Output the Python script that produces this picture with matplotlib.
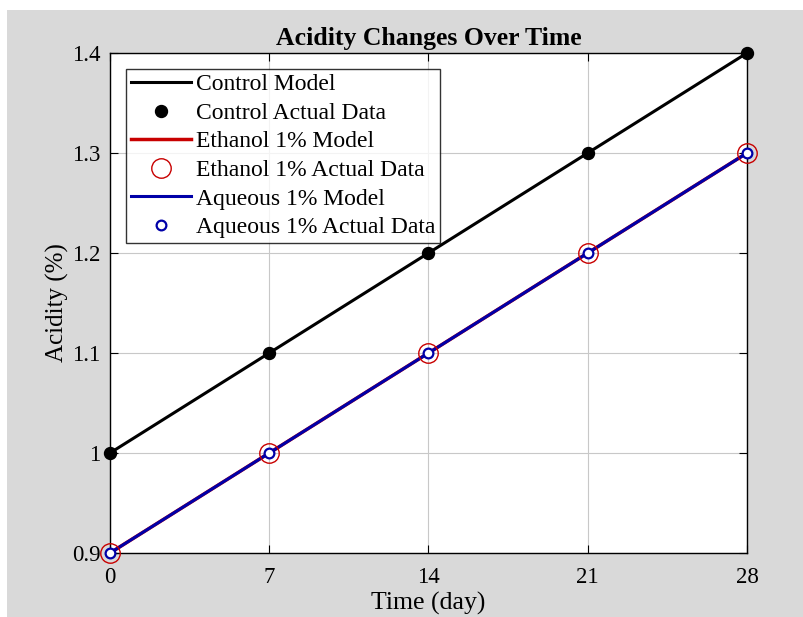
import matplotlib.pyplot as plt
from matplotlib.patches import Rectangle

# ── Data ───────────────────────────────────────────────────────────────────────
days          = [0, 7, 14, 21, 28]
control       = [1.0, 1.1, 1.2, 1.3, 1.4]
ethanol_1pct  = [0.9, 1.0, 1.1, 1.2, 1.3]
aqueous_1pct  = [0.9, 1.0, 1.1, 1.2, 1.3]
y_ticks       = [0.9, 1.0, 1.1, 1.2, 1.3, 1.4]
y_tick_labels = ["0.9", "1", "1.1", "1.2", "1.3", "1.4"]

RED  = "#c80000"
BLUE = "#0000a8"
GRAY = "#d9d9d9"

plt.rcParams["font.family"] = ["Liberation Serif", "DejaVu Serif"]

W, H = 804, 617
fig = plt.figure(figsize=(W / 100, H / 100), dpi=100, facecolor="white")
# grey backdrop with a thin white margin on top and left
fig.patches.append(Rectangle((7 / W, 0), 1 - 7 / W, 1 - 10 / H,
                             transform=fig.transFigure, facecolor=GRAY,
                             edgecolor="none", zorder=-10))

ax = fig.add_axes([110 / W, 1 - 553 / H, (747 - 110) / W, (553 - 53) / H])
ax.set_facecolor("white")

ax.plot(days, control, color="black", lw=2.2, label="Control Model", zorder=3)
ax.plot(days, control, "o", color="black", ms=8.6, label="Control Actual Data",
        zorder=4, clip_on=False)
ax.plot(days, ethanol_1pct, color=RED, lw=2.5, label="Ethanol 1% Model", zorder=3)
ax.plot(days, ethanol_1pct, "o", mfc="none", mec=RED, mew=1.0, ms=14,
        label="Ethanol 1% Actual Data", zorder=4, clip_on=False)
ax.plot(days, aqueous_1pct, color=BLUE, lw=2.2, label="Aqueous 1% Model", zorder=3)
ax.plot(days, aqueous_1pct, "o", mfc="white", mec=BLUE, mew=1.6, ms=7,
        label="Aqueous 1% Actual Data", zorder=5, clip_on=False)

ax.set_xlim(0, 28)
ax.set_ylim(0.9, 1.4)
ax.set_xticks(days)
ax.set_yticks(y_ticks)
ax.set_yticklabels(y_tick_labels)
ax.tick_params(direction="in", length=6, width=0.8, top=True, right=True,
               labelsize=16.5)
ax.tick_params(axis="x", pad=10)
ax.tick_params(axis="y", pad=7)
ax.grid(True, color="#c8c8c8", lw=0.8)
for s in ax.spines.values():
    s.set_linewidth(1.0)

ax.set_title("Acidity Changes Over Time", fontsize=18.5, fontweight="bold", pad=6)
ax.set_xlabel("Time (day)", fontsize=18.5, labelpad=3)
ax.set_ylabel("Acidity (%)", fontsize=18, labelpad=2)

leg = ax.legend(loc="upper left", bbox_to_anchor=(0.025, 0.968), fontsize=17,
                frameon=True, fancybox=False, edgecolor="black",
                handlelength=2.55, handletextpad=0.2, labelspacing=0.3,
                borderpad=0.2, borderaxespad=0)
leg.get_frame().set_linewidth(1.0)

fig.savefig("out.png", dpi=100, facecolor=fig.get_facecolor())
